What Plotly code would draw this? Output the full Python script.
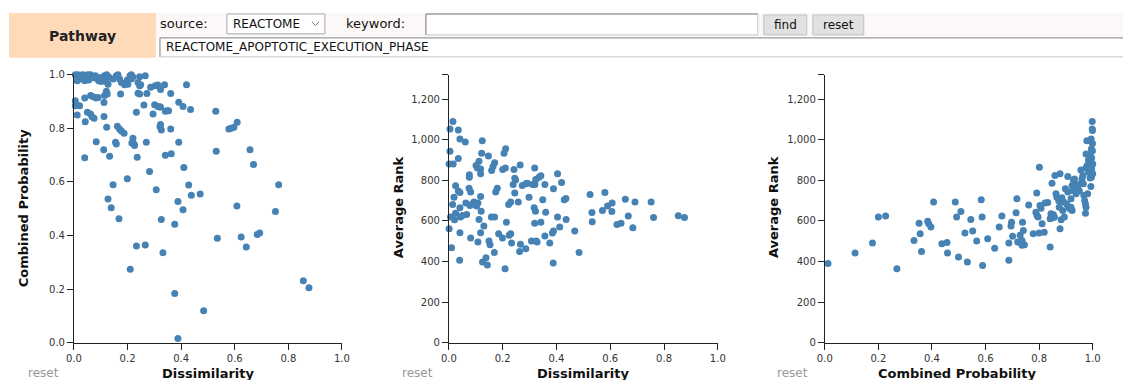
import plotly.graph_objects as go

W, H = 1123, 380

# ---------------- data ----------------
# Panel 1: Dissimilarity vs Combined Probability
dissim_p1 = [0.005,0.015,0.025,0.034,0.040,0.052,0.062,0.080,0.100,0.114,0.122,0.129,0.158,0.164,0.170,0.209,0.214,0.245,0.266,
             0.012,0.021,0.040,0.055,0.077,0.092,0.102,0.121,0.127,0.146,0.177,0.189,0.199,0.201,0.214,0.220,0.239,0.245,0.249,0.286,0.303,0.313,0.338,0.420,
             0.174,0.239,0.245,0.272,0.323,0.361,0.121,0.124,0.114,0.062,0.071,0.083,0.090,0.040,0.005,0.112,
             0.008,0.021,0.005,0.012,0.050,0.062,0.067,0.075,0.112,0.042,0.122,0.233,0.261,0.295,0.301,0.313,0.320,0.323,0.341,0.347,0.353,0.391,0.407,0.435,0.529,0.323,0.321,0.326,0.361,0.578,0.587,0.597,0.609,
             0.162,0.170,0.177,0.187,0.220,0.224,0.226,0.216,0.270,0.391,0.083,0.111,0.133,0.040,0.155,0.158,0.236,0.341,0.363,0.531,0.657,0.670,0.410,0.282,
             0.199,0.146,0.428,0.764,0.307,0.438,0.471,0.127,0.139,0.388,0.407,0.608,0.752,0.168,0.326,0.376,0.535,0.624,0.684,0.693,0.643,0.233,0.266,0.332,0.210,0.856,0.877,0.376,0.484,0.388]
prob_p1 = [1.000,1.000,0.998,1.000,0.996,1.000,1.000,0.996,0.990,0.996,1.000,0.993,0.996,1.000,0.984,0.996,1.000,0.993,0.996,
           0.978,0.984,0.978,0.980,0.988,0.978,0.975,0.975,0.965,0.984,0.971,0.963,0.980,0.965,0.984,0.992,0.971,0.959,0.963,0.953,0.959,0.962,0.963,0.963,
           0.928,0.931,0.928,0.930,0.945,0.930,0.938,0.928,0.923,0.923,0.918,0.913,0.915,0.913,0.903,0.896,
           0.890,0.884,0.884,0.850,0.860,0.854,0.843,0.838,0.844,0.825,0.804,0.860,0.887,0.854,0.888,0.882,0.880,0.880,0.864,0.866,0.866,0.897,0.882,0.870,0.864,0.814,0.806,0.794,0.798,0.798,0.800,0.804,0.823,
           0.808,0.798,0.790,0.782,0.763,0.742,0.736,0.745,0.748,0.748,0.750,0.720,0.696,0.690,0.748,0.742,0.692,0.700,0.705,0.715,0.720,0.665,0.654,0.639,
           0.612,0.590,0.589,0.590,0.571,0.550,0.555,0.536,0.504,0.527,0.496,0.510,0.490,0.463,0.460,0.442,0.390,0.395,0.404,0.410,0.357,0.361,0.365,0.336,0.274,0.231,0.205,0.184,0.119,0.016]

# Panel 2: Dissimilarity vs Average Rank
dissim_p2 = [0.015,0.004,0.035,0.041,0.061,0.124,0.004,0.035,0.211,0.205,0.147,0.122,0.112,0.001,0.016,0.101,0.118,0.106,0.170,0.164,
             0.159,0.200,0.210,0.265,0.242,0.319,0.118,0.076,0.076,0.245,0.248,0.342,0.335,0.404,0.419,0.323,0.239,0.273,0.286,0.292,
             0.311,0.320,0.357,0.025,0.180,0.174,0.075,0.081,0.041,0.035,0.019,0.118,0.245,0.298,0.349,0.389,0.429,0.435,0.258,0.230,
             0.222,0.063,0.078,0.087,0.093,0.103,0.108,0.099,0.041,0.014,0.317,0.322,0.360,0.120,0.025,0.066,0.043,0.050,0.021,0.006,
             0.112,0.158,0.170,0.214,0.319,0.342,0.404,0.436,0.412,0.389,0.385,0.468,0.001,0.130,0.041,0.081,0.118,0.185,0.199,0.224,
             0.230,0.357,0.108,0.149,0.153,0.233,0.266,0.286,0.263,0.307,0.324,0.328,0.375,0.010,0.169,0.484,0.138,0.125,0.143,0.040,
             0.209,0.388,0.525,0.580,0.532,0.533,0.571,0.590,0.607,0.606,0.625,0.640,0.656,0.667,0.684,0.692,0.752,0.761,0.853,0.876]
rank_p2 = [1090,1053,1048,1004,989,995,943,907,955,933,920,933,894,881,881,873,856,861,886,868,
           848,853,861,876,853,861,832,828,815,810,802,823,815,832,789,804,779,774,783,786,
           779,779,779,773,761,742,761,742,740,747,717,720,738,717,704,758,704,711,693,693,
           681,688,676,684,693,673,688,681,665,681,665,648,643,648,638,632,619,627,606,619,
           607,619,619,594,589,594,619,607,570,550,540,550,562,575,542,516,542,537,516,529,
           537,526,496,501,483,491,485,463,450,501,501,496,491,468,444,444,419,398,383,406,
           365,393,730,740,642,596,652,673,688,647,583,588,707,624,566,693,693,617,625,617]

# Panel 3: Combined Probability vs Average Rank
prob_p3 = [0.012,0.113,0.178,0.200,0.227,0.269,0.333,0.352,0.356,0.361,0.384,0.388,0.396,0.406,0.437,0.456,0.458,0.487,0.492,0.508,
           0.499,0.523,0.532,0.545,0.552,0.567,0.584,0.587,0.589,0.608,0.634,0.651,0.661,0.687,0.687,0.695,0.697,0.701,0.714,0.717,
           0.720,0.729,0.736,0.738,0.741,0.745,0.736,0.761,0.778,0.791,0.788,0.792,0.796,0.800,0.801,0.803,0.807,0.811,0.819,0.822,
           0.832,0.841,0.841,0.844,0.848,0.851,0.853,0.857,0.859,0.863,0.866,0.873,0.878,0.875,0.878,0.882,0.885,0.888,0.892,0.894,
           0.898,0.903,0.907,0.907,0.910,0.915,0.919,0.919,0.923,0.923,0.925,0.928,0.932,0.935,0.938,0.941,0.945,0.950,0.954,0.956,
           0.960,0.963,0.965,0.967,0.970,0.973,0.973,0.975,0.975,0.975,0.978,0.979,0.981,0.984,0.985,0.988,0.988,0.990,0.991,0.993,
           0.994,0.995,0.996,0.996,0.998,0.998,0.999,0.999,0.999,1.000,1.000,0.995,0.991]
rank_p3 = [390,442,491,619,624,365,504,589,537,449,598,586,570,693,488,494,442,693,619,647,
           422,540,398,607,550,501,704,619,381,512,465,570,624,491,406,575,594,524,640,709,
           496,529,504,593,553,483,480,679,537,737,643,627,619,540,864,676,663,586,544,688,
           691,472,611,635,786,616,632,619,824,734,717,700,832,668,562,606,714,652,693,619,
           758,684,819,742,668,660,668,709,652,774,750,802,807,779,734,769,758,747,783,851,
           807,824,783,725,700,684,638,668,930,861,995,873,734,900,840,995,927,812,889,769,
           1004,954,910,856,1053,1090,1045,982,946,881,832,815,930]

x_ticks = [0, 0.2, 0.4, 0.6, 0.8, 1.0]
prob_ticks = [0, 0.2, 0.4, 0.6, 0.8, 1.0]
rank_ticks = [0, 200, 400, 600, 800, 1000, 1200]
rank_max = 1320

source_label = "source:"
source_value = "REACTOME"
keyword_label = "keyword:"
pathway_value = "REACTOME_APOPTOTIC_EXECUTION_PHASE"

# ---------------- helpers (window pixel positions -> paper) ----------------
# calibration for how the page places the figure inside the window
OX, SX, OY, SY = 7.0, 0.986, 5.0, 0.972

def fx(x):
    return ((x - OX) / SX) / W

def fy(y):
    return 1 - ((y - OY) / SY) / H

DOT = "#4682b4"
FONT = "DejaVu Sans"

fig = go.Figure()

panels = [
    ("x", "y", dissim_p1, prob_p1),
    ("x2", "y2", dissim_p2, rank_p2),
    ("x3", "y3", prob_p3, rank_p3),
]
for xa, ya, xs, ys in panels:
    fig.add_trace(go.Scatter(x=xs, y=ys, xaxis=xa, yaxis=ya, mode="markers",
                             marker=dict(color=DOT, size=7, line=dict(width=0)),
                             cliponaxis=False, hoverinfo="x+y", showlegend=False))

y_top, y_bot = 74, 343
x_doms = [(73, 341), (448, 717), (824, 1092)]

axis_common = dict(showline=True, linecolor="#222", linewidth=1, ticks="outside",
                   ticklen=6, tickwidth=1, tickcolor="#222", showgrid=False,
                   zeroline=False, tickfont=dict(family=FONT, size=10, color="#333"))

layout_axes = {}
for i, (x0, x1) in enumerate(x_doms):
    sfx = "" if i == 0 else str(i + 1)
    layout_axes["xaxis" + sfx] = dict(domain=[fx(x0), fx(x1)], range=[0, 1],
                                      anchor="y" + sfx, tickvals=x_ticks,
                                      tickformat=".1f", fixedrange=True, **axis_common)
    if i == 0:
        layout_axes["yaxis"] = dict(domain=[fy(y_bot), fy(y_top)], range=[0, 1],
                                    anchor="x", tickvals=prob_ticks, tickformat=".1f",
                                    fixedrange=True, **axis_common)
    else:
        layout_axes["yaxis" + sfx] = dict(domain=[fy(y_bot), fy(y_top)], range=[0, rank_max],
                                          anchor="x" + sfx,
                                          tickvals=rank_ticks + [rank_max],
                                          ticktext=[f"{v:,}" for v in rank_ticks] + [""],
                                          fixedrange=True, **axis_common)

annotations = []
shapes = []

def label(text, x, y, size, color="#111", bold=False, xanchor="center", angle=0):
    font = dict(family=FONT, size=size, color=color)
    if bold:
        font["weight"] = "bold"
    annotations.append(dict(text=text, x=fx(x), y=fy(y), xref="paper", yref="paper",
                            showarrow=False, xanchor=xanchor, yanchor="middle",
                            textangle=angle, font=font))

# axis titles
for t, cx in [("Dissimilarity", 207), ("Dissimilarity", 582), ("Combined Probability", 957)]:
    label(t, cx, 374, 13, bold=True)
for t, cx in [("Combined Probability", 22), ("Average Rank", 397), ("Average Rank", 772)]:
    label(t, cx, 207, 13, bold=True, angle=-90)
for cx in (43, 417, 792):
    label("reset", cx, 373, 12, color="#999")

def rect(x0, y0, x1, y1, fill=None, line=None, lw=1):
    shapes.append(dict(type="rect", xref="paper", yref="paper",
                       x0=fx(x0), x1=fx(x1), y0=fy(y1), y1=fy(y0),
                       fillcolor=fill if fill else "rgba(0,0,0,0)",
                       line=dict(color=line if line else "rgba(0,0,0,0)", width=lw if line else 0),
                       layer="below"))

def hline(x0, x1, y, color):
    shapes.append(dict(type="line", xref="paper", yref="paper", x0=fx(x0), x1=fx(x1),
                       y0=fy(y), y1=fy(y), line=dict(color=color, width=1)))

def vline(x, y0, y1, color):
    shapes.append(dict(type="line", xref="paper", yref="paper", x0=fx(x), x1=fx(x),
                       y0=fy(y0), y1=fy(y1), line=dict(color=color, width=1)))

# header
rect(8, 12, 155, 57, fill="#ffdab9")
rect(155, 12, W + 20, 37, fill="#fcf8f7")
label("Pathway", 82, 35, 14, color="#222", bold=True)
label(source_label, 157, 23, 13, xanchor="left")
# dropdown
rect(226, 13, 324, 33, fill="#ffffff", line="#a9a9a9")
label(source_value, 230, 23, 12, xanchor="left")
shapes.append(dict(type="path", xref="paper", yref="paper",
                   path=f"M {fx(311)} {fy(21)} L {fx(314.5)} {fy(24.5)} L {fx(318)} {fy(21)}",
                   line=dict(color="#777", width=1)))
label(keyword_label, 343, 23, 13, xanchor="left")
# keyword input
rect(425, 13, 757, 34, fill="#ffffff", line="#c8c8c8")
hline(425, 757, 13, "#8a8a8a")
vline(425, 13, 34, "#8a8a8a")
# buttons
rect(763, 14, 806, 34, fill="#e1e1e1", line="#c0c0c0")
rect(812, 14, 863, 34, fill="#e1e1e1", line="#c0c0c0")
label("find", 784.5, 24, 12)
label("reset", 837.5, 24, 12)
# pathway text field
rect(159, 37, W + 20, 56, fill="#ffffff", line="#c8c8c8")
hline(159, W + 20, 37, "#9a9a9a")
vline(159, 37, 56, "#9a9a9a")
label(pathway_value, 163, 46.5, 12, xanchor="left")

fig.update_layout(width=W, height=H, autosize=False, margin=dict(l=0, r=0, t=0, b=0),
                  paper_bgcolor="#ffffff", plot_bgcolor="#ffffff",
                  showlegend=False, annotations=annotations, shapes=shapes,
                  **layout_axes)

fig.write_html("out.html", config={"displayModeBar": False})
